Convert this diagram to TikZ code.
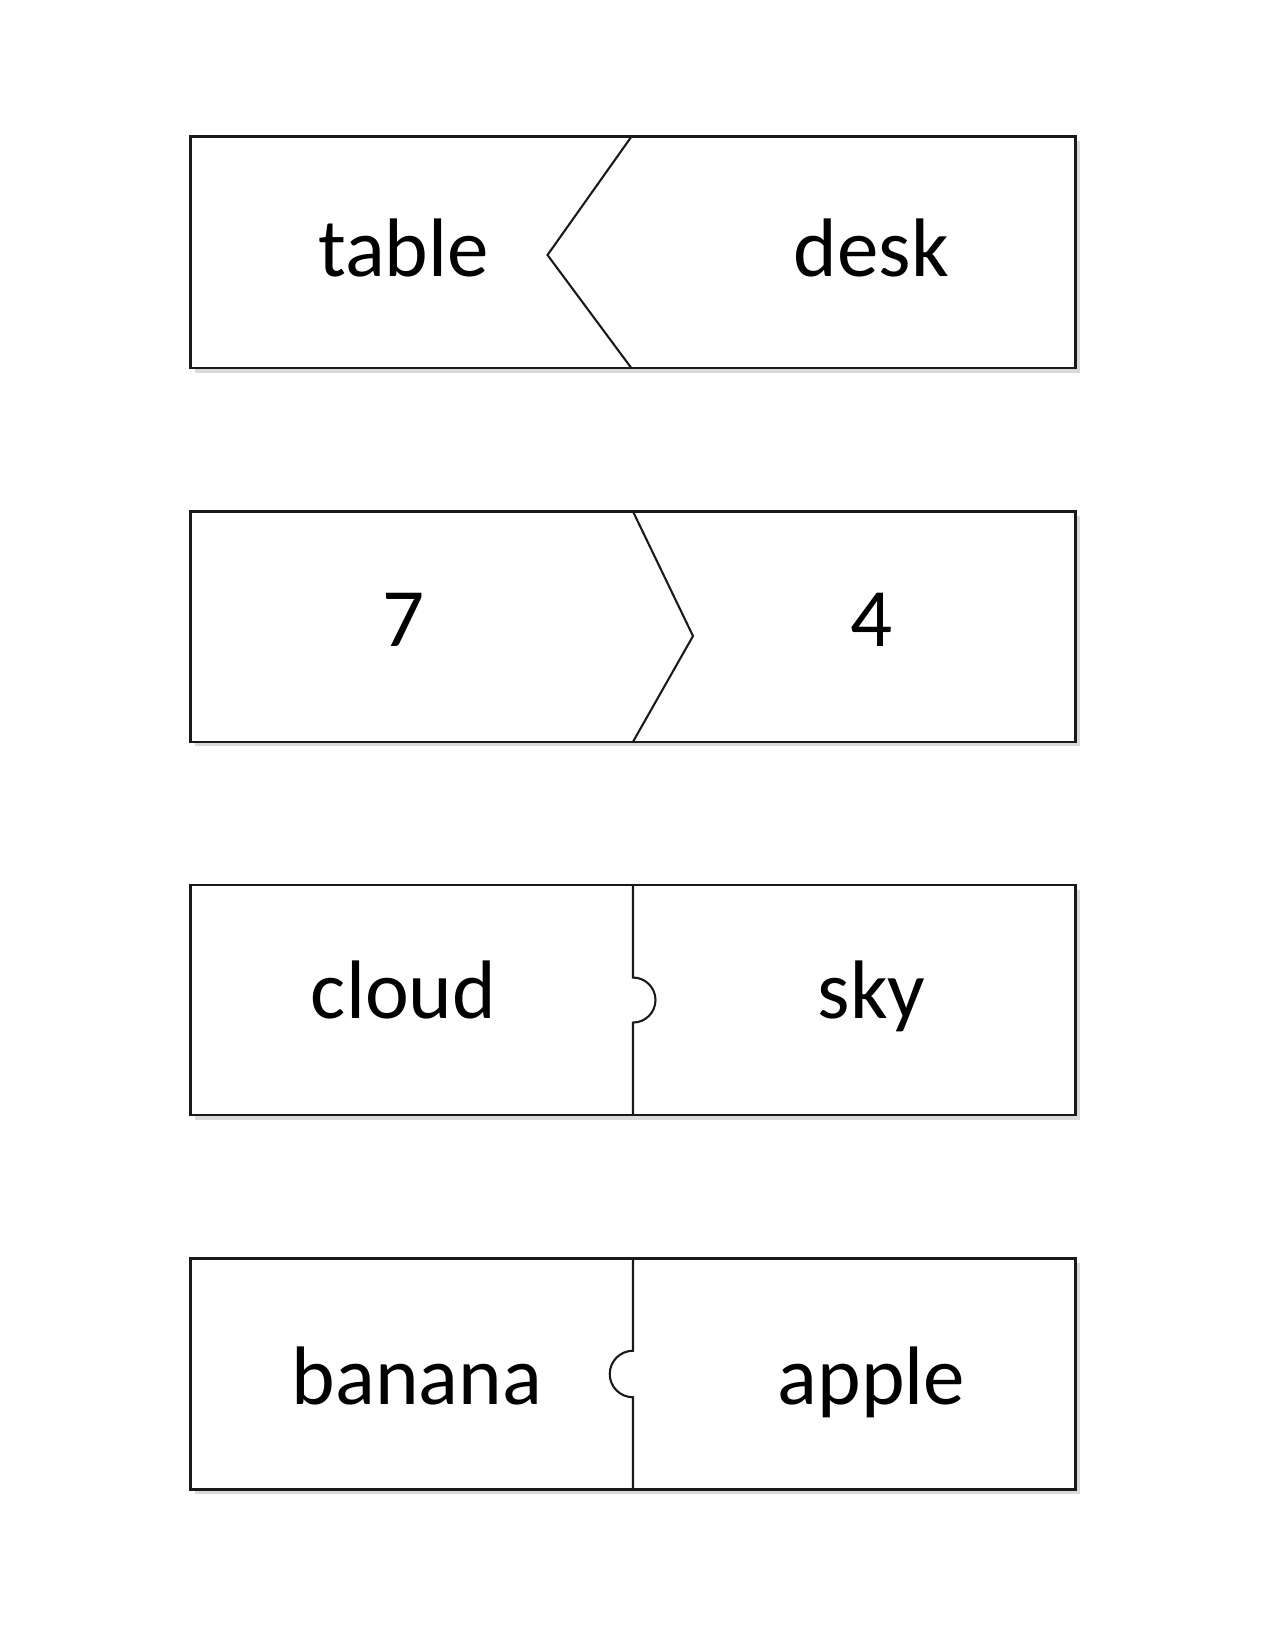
\documentclass[tikz,border=0pt]{standalone}
\usepackage{fontspec}
\setmainfont{Carlito}
\usepackage{tikz}
\tikzset{
  card/.style={draw=black!90,line width=1pt,fill=white},
  cardshadow/.style={fill=black!15,draw=none},
  cut/.style={draw=black!90,line width=1pt},
  word/.style={anchor=base,font=\fontsize{40}{48}\selectfont,inner sep=0pt}
}
\begin{document}
\begin{tikzpicture}[x=1in,y=1in]
	\useasboundingbox (0,0) rectangle (8.5,-11);
	% card 1
	\fill [cardshadow] (1.30,-0.94) rectangle (7.20,-2.485);
	\draw [card] (1.27,-0.91) rectangle (7.17,-2.455);
	\draw [cut] (4.21,-0.91) -- (3.65,-1.70) -- (4.21,-2.455);
	\node [word] (table) at (2.69,-1.84) {table};
	\node [word] (desk) at (5.81,-1.84) {desk};
	% card 2
	\fill [cardshadow] (1.30,-3.44) rectangle (7.20,-4.975);
	\draw [card] (1.27,-3.41) rectangle (7.17,-4.945);
	\draw [cut] (4.22,-3.41) -- (4.62,-4.24) -- (4.22,-4.945);
	\node [word] (seven) at (2.69,-4.31) {7};
	\node [word] (four) at (5.81,-4.31) {4};
	% card 3
	\fill [cardshadow] (1.30,-5.93) rectangle (7.20,-7.465);
	\draw [card] (1.27,-5.90) rectangle (7.17,-7.435);
	\draw [cut] (4.22,-5.90) -- (4.22,-6.517) arc (90:-90:0.15) -- (4.22,-7.435);
	\node [word] (cloud) at (2.69,-6.79) {cloud};
	\node [word] (sky) at (5.81,-6.79) {sky};
	% card 4
	\fill [cardshadow] (1.30,-8.42) rectangle (7.20,-9.96);
	\draw [card] (1.27,-8.39) rectangle (7.17,-9.93);
	\draw [cut] (4.22,-8.39) -- (4.22,-9.005) arc (90:270:0.155) -- (4.22,-9.93);
	\node [word] (banana) at (2.78,-9.36) {banana};
	\node [word] (apple) at (5.81,-9.36) {apple};
\end{tikzpicture}
\end{document}
